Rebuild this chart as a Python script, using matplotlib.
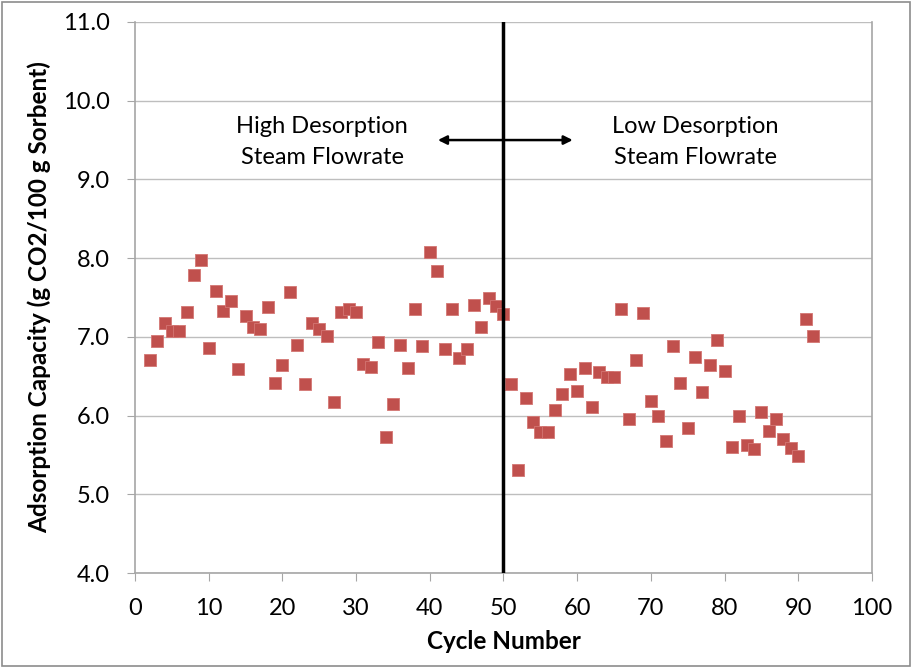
import matplotlib.pyplot as plt
from matplotlib.patches import Rectangle

# cycle numbers and adsorption capacity
cycles = list(range(2, 93))
capacity = [
    6.71, 6.95, 7.17, 7.08, 7.07, 7.32, 7.79, 7.97, 6.86, 7.58,   # 2-11
    7.33, 7.46, 6.59, 7.27, 7.13, 7.10, 7.38, 6.42, 6.64, 7.57,   # 12-21
    6.90, 6.40, 7.17, 7.10, 7.01, 6.17, 7.32, 7.36, 7.32, 6.66,   # 22-31
    6.62, 6.94, 5.73, 6.15, 6.90, 6.61, 7.36, 6.89, 8.08, 7.84,   # 32-41
    6.85, 7.36, 6.73, 6.85, 7.41, 7.12, 7.49, 7.39, 7.29, 6.40,   # 42-51
    5.31, 6.22, 5.92, 5.79, 5.79, 6.07, 6.28, 6.53, 6.31, 6.61,   # 52-61
    6.11, 6.55, 6.49, 6.49, 7.35, 5.96, 6.71, 7.30, 6.19, 6.00,   # 62-71
    5.68, 6.89, 6.41, 5.84, 6.74, 6.30, 6.64, 6.96, 6.57, 5.60,   # 72-81
    5.99, 5.63, 5.58, 6.04, 5.80, 5.96, 5.70, 5.59, 5.49, 7.23,   # 82-91
    7.01,                                                         # 92
]
switch_cycle = 50
left_label = "High Desorption\nSteam Flowrate"
right_label = "Low Desorption\nSteam Flowrate"

plt.rcParams['font.family'] = ['Lato', 'DejaVu Sans']

fig = plt.figure(figsize=(9.13, 6.68), dpi=100)
ax = fig.add_axes([0.1479, 0.1422, 0.8071, 0.8249])

ax.scatter(cycles, capacity, marker='s', s=68, color='#C0504D',
           edgecolors='#D47673', linewidths=0.6, zorder=3)

# divider between the two flowrate regimes
ax.plot([switch_cycle, switch_cycle], [4, 11], color='black', lw=2.5, zorder=4)
ax.annotate('', xy=(41.1, 9.5), xytext=(59.4, 9.5),
            arrowprops=dict(arrowstyle='<|-|>', color='black', lw=1.8,
                            mutation_scale=13, shrinkA=0, shrinkB=0))
ax.text(25.4, 9.48, left_label, ha='center', va='center', fontsize=17,
        linespacing=1.6)
ax.text(76.0, 9.48, right_label, ha='center', va='center', fontsize=17,
        linespacing=1.6)

ax.set_xlim(0, 100)
ax.set_ylim(4, 11)
ax.set_xticks(range(0, 101, 10))
ax.set_yticks([4, 5, 6, 7, 8, 9, 10, 11])
ax.set_yticklabels([f"{v:.1f}" for v in range(4, 12)])
ax.grid(axis='y', color='#BEBEBE', lw=1)
ax.set_axisbelow(True)

for side in ['left', 'bottom', 'right']:
    ax.spines[side].set_color('#A6A6A6')
    ax.spines[side].set_linewidth(1.2)
ax.spines['top'].set_visible(False)
ax.tick_params(axis='both', direction='out', length=6, color='#A6A6A6',
               labelsize=17)
ax.tick_params(axis='y', pad=12)
ax.tick_params(axis='x', pad=12)

ax.set_xlabel("Cycle Number", fontsize=17.5, fontweight='bold', labelpad=8)
ax.set_ylabel("Adsorption Capacity (g CO2/100 g Sorbent)", fontsize=17.5,
              fontweight='bold', labelpad=9)

# chart border
fig.patches.append(Rectangle((0.002, 0.003), 0.995, 0.994, transform=fig.transFigure,
                             fill=False, edgecolor='#8C8C8C', lw=1.2))

fig.savefig('out.png', dpi=100)
